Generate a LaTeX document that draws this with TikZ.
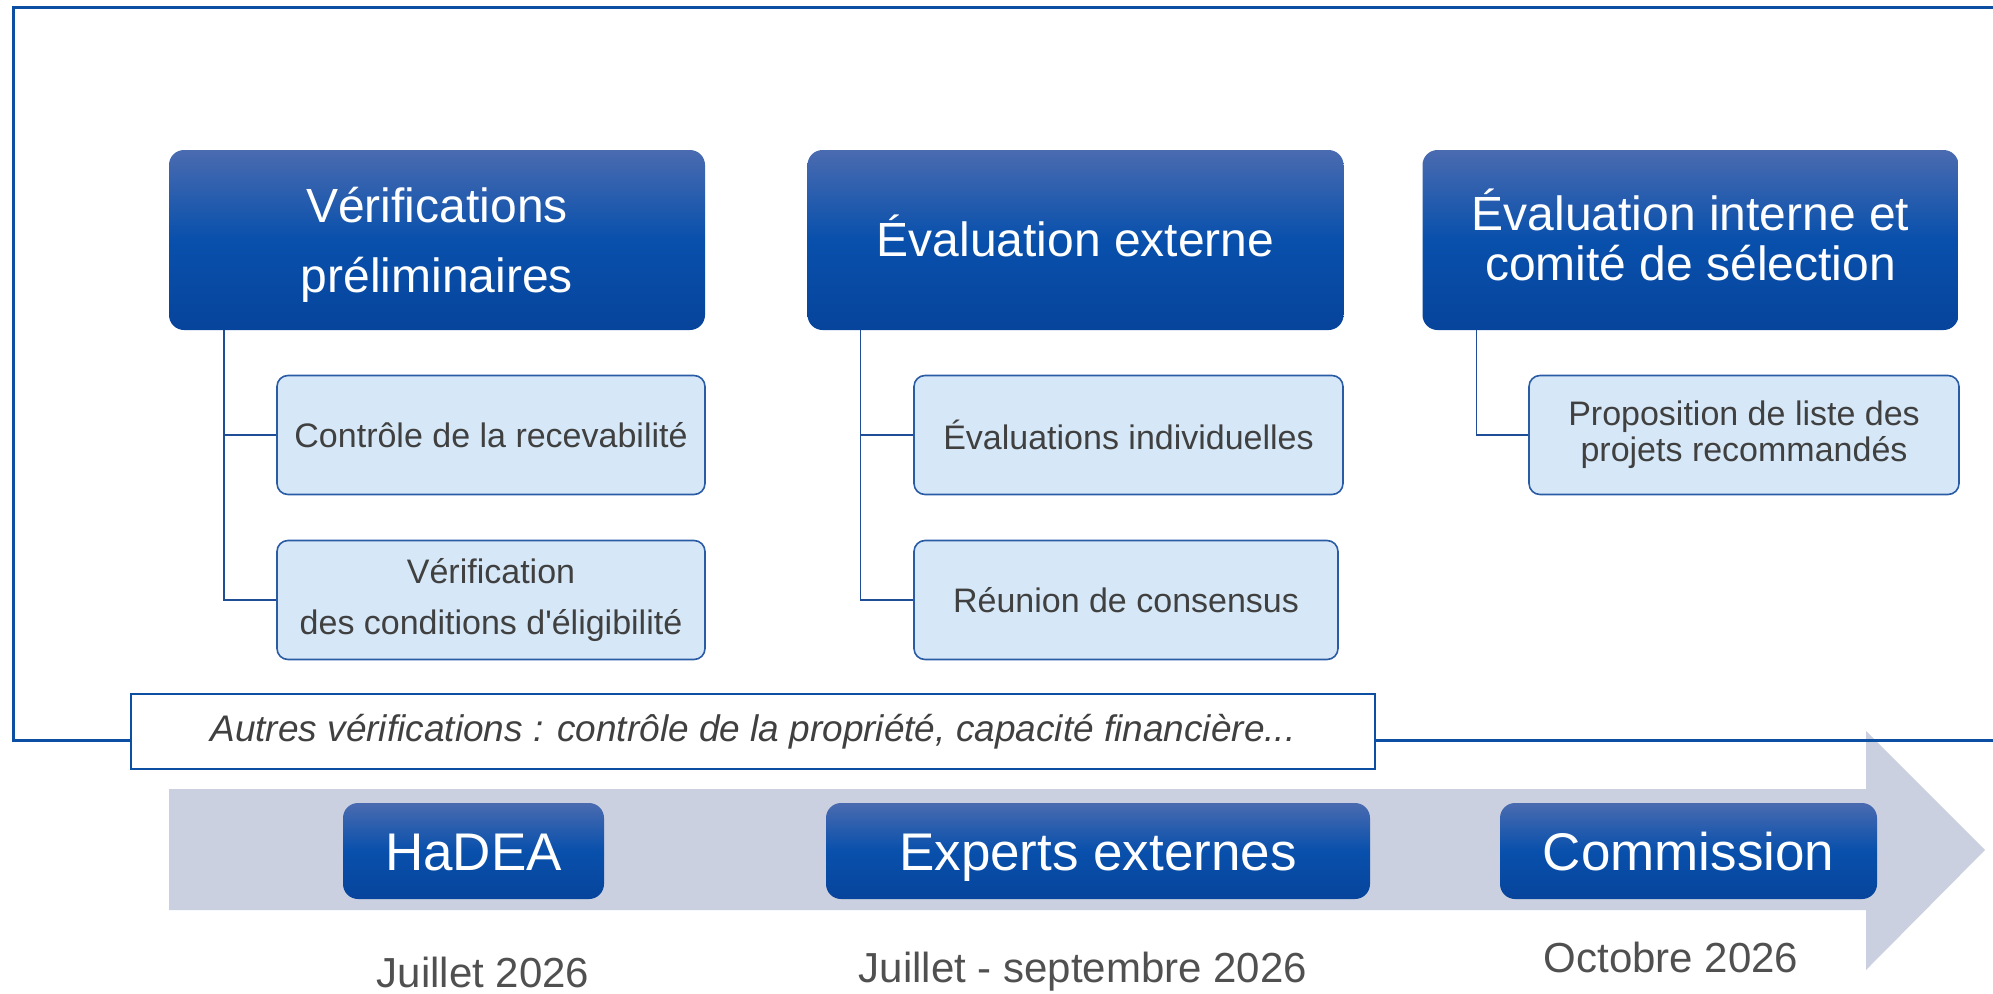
\documentclass[tikz,border=0pt]{standalone}
\usepackage{fontspec}
\setmainfont{Liberation Sans}[Ligatures=TeXOff]
\definecolor{frameblue}{HTML}{0B4EA2}
\definecolor{gtop}{HTML}{4A6BB0}
\definecolor{gmid}{HTML}{0850AC}
\definecolor{gbot}{HTML}{07449C}
\definecolor{subfill}{HTML}{D6E8F7}
\definecolor{subline}{HTML}{2A5CA6}
\definecolor{conncol}{HTML}{1F4E96}
\definecolor{arrowfill}{HTML}{CBD0E0}
\definecolor{txtgrey}{HTML}{404040}
\definecolor{dategrey}{HTML}{505050}
\tikzset{
  phasebox/.style={rounded corners=15pt, top color=gtop, bottom color=gbot, middle color=gmid,
    shading=axis, inner sep=0pt, minimum width=536pt, minimum height=180pt},
  phasetext/.style={text=white, align=center, inner sep=0pt, font=\fontsize{48}{50}\selectfont},
  subbox/.style={rounded corners=11pt, fill=subfill, draw=subline, line width=1.6pt,
    text=txtgrey, align=center, inner sep=0pt, minimum height=119pt,
    font=\fontsize{34}{36}\selectfont},
  actor/.style={rounded corners=15pt, top color=gtop, bottom color=gbot, middle color=gmid,
    shading=axis, text=white, inner sep=0pt, minimum height=96pt,
    text height=38pt, text depth=0pt,
    font=\fontsize{53}{55}\selectfont},
  conn/.style={draw=conncol, line width=1.6pt},
  framel/.style={draw=frameblue, line width=3pt},
  datelbl/.style={text=dategrey, font=\fontsize{42}{44}\selectfont, inner sep=0pt}
}
\begin{document}
\begin{tikzpicture}[x=1pt,y=-1pt]
\useasboundingbox (0,0) rectangle (1993,993);
% timeline arrow
\fill[arrowfill] (169,789) -- (1866,789) -- (1866,731) -- (1985,850) -- (1866,970) -- (1866,910) -- (169,910) -- cycle;
% frame
\draw[framel] (131,740) -- (13,740) -- (13,7) -- (1993,7);
\draw[framel] (1375,740) -- (1993,740);
% other checks box
\node[draw=frameblue, line width=2.5pt, fill=white, minimum width=1244pt, minimum height=75pt, inner sep=0pt,
  text=txtgrey, font=\fontsize{37}{39}\selectfont\itshape] (other) at (753,731.5)
  {Autres vérifications : contrôle de la propriété, capacité financière...};
% phase boxes
\node[phasebox] (t1) at (437,240) {};
\node[phasebox] (t2) at (1075.5,240) {};
\node[phasebox] (t3) at (1690.5,240) {};
\node[phasetext, font=\fontsize{48}{70}\selectfont] (t1txt) at ([yshift=-5pt]t1.center) {Vérifications\\préliminaires};
\node[phasetext] (t2txt) at ([yshift=4pt]t2.center) {Évaluation externe};
\node[phasetext] (t3txt) at ([yshift=5pt]t3.center) {Évaluation interne et\\comité de sélection};
% sub boxes
\node[subbox, minimum width=428pt] (s11) at (491,435) {Contrôle de la recevabilité};
\node[subbox, minimum width=428pt, font=\fontsize{34}{51}\selectfont] (s12) at (491,600) {Vérification\\des conditions d'éligibilité};
\node[subbox, minimum width=429pt] (s21) at (1128.5,435) {Évaluations individuelles};
\node[subbox, minimum width=424pt] (s22) at (1126,600) {Réunion de consensus};
\node[subbox, minimum width=430pt] (s31) at (1744,435) {Proposition de liste des\\projets recommandés};
% connectors
\draw[conn] ([xshift=55pt]t1.south west) |- (s11.west);
\draw[conn] ([xshift=55pt]t1.south west) |- (s12.west);
\draw[conn] ([xshift=53pt]t2.south west) |- (s21.west);
\draw[conn] ([xshift=53pt]t2.south west) |- (s22.west);
\draw[conn] ([xshift=54pt]t3.south west) |- (s31.west);
% actors
\node[actor, minimum width=261pt] (a1) at (473.5,851) {HaDEA};
\node[actor, minimum width=544pt] (a2) at (1098,851) {Experts externes};
\node[actor, minimum width=377pt] (a3) at (1688.5,851) {Commission};
% dates
\node[datelbl] (d1) at (483,972) {Juillet 2026};
\node[datelbl] (d2) at (1083,972) {Juillet - septembre 2026};
\node[datelbl] (d3) at (1671,957) {Octobre 2026};
\end{tikzpicture}
\end{document}
